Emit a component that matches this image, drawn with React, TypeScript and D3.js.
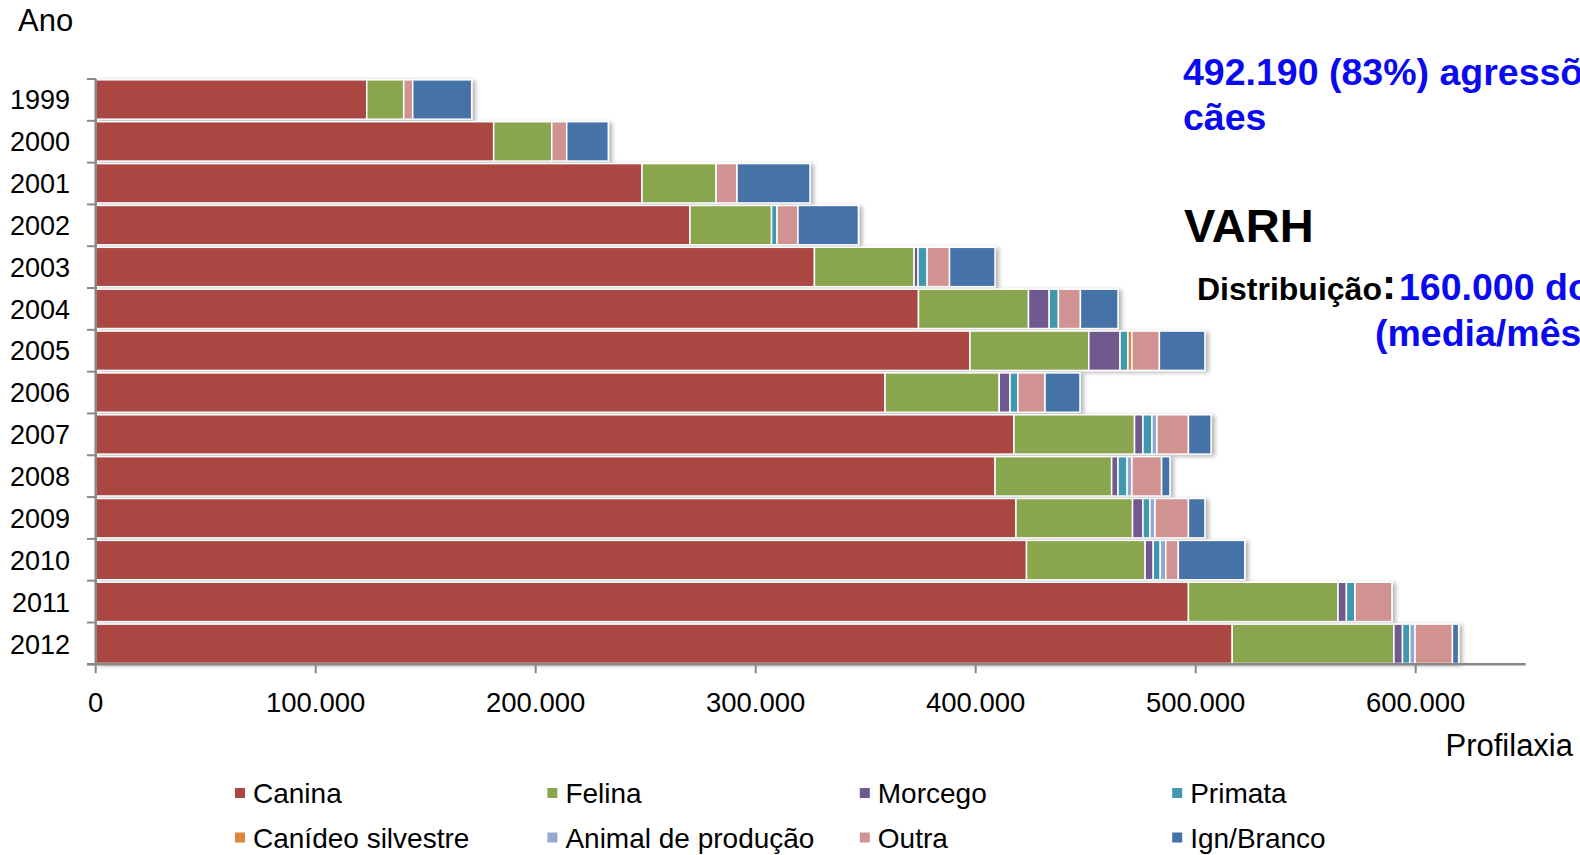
import React from "react";
import * as d3 from "d3";

// anos (eixo vertical)
const years = ["1999", "2000", "2001", "2002", "2003", "2004", "2005", "2006", "2007", "2008", "2009", "2010", "2011", "2012"];

// atendimentos por espécie agressora
const canina = [123200, 180900, 248300, 270100, 326700, 374000, 397400, 358800, 417400, 408800, 418300, 423100, 496700, 516600];
const felina = [16800, 26400, 33700, 37100, 45300, 50000, 54000, 51900, 54800, 53000, 53000, 53900, 68000, 73500];
const morcego = [0, 0, 0, 0, 1800, 9400, 14200, 4900, 3800, 2900, 4700, 3700, 3800, 3900];
const primata = [0, 0, 0, 2500, 4100, 4200, 3600, 3600, 4100, 4100, 3200, 3200, 3900, 3300];
const canideo = [0, 0, 0, 0, 0, 0, 1800, 0, 0, 0, 0, 0, 0, 0];
const producao = [0, 0, 0, 0, 0, 0, 0, 0, 2300, 2200, 2300, 2500, 0, 2400];
const outra = [4100, 6800, 9500, 9500, 10200, 10000, 12500, 12300, 14300, 13500, 15200, 5700, 16800, 17000];
const ign = [26800, 18900, 33200, 27500, 20700, 17100, 20700, 15900, 10300, 3800, 7500, 30200, 0, 2800];

const seriesNames = ["Canina", "Felina", "Morcego", "Primata", "Canídeo silvestre", "Animal de produção", "Outra", "Ign/Branco"];
const seriesValues = [canina, felina, morcego, primata, canideo, producao, outra, ign];
const colors = ["#AA4643", "#89A54E", "#71588F", "#4198AF", "#DB843D", "#93A9CF", "#D19392", "#4572A7"];

const xTicks = [0, 100000, 200000, 300000, 400000, 500000, 600000];

const FONT = "'Liberation Sans', Arial, sans-serif";

export default function App() {
  const W = 1580, H = 855;

  const x = d3.scaleLinear().domain([0, 650000]).range([95.7, 1525.7]);
  const y = d3.scaleBand<string>().domain(years).range([79, 664.3]).paddingInner(0.06).paddingOuter(0.02);

  // tabela para o d3.stack
  const rows = years.map((yr, i) => {
    const r: any = { year: yr };
    seriesNames.forEach((s, k) => { r[s] = seriesValues[k][i]; });
    return r;
  });
  const stacked = d3.stack().keys(seriesNames)(rows);

  const fmt = d3.formatLocale({ decimal: ",", thousands: ".", grouping: [3], currency: ["R$", ""] }).format(",");

  const [y0, y1] = y.range();
  const step = (y1 - y0) / years.length;
  const boundaries = d3.range(years.length + 1).map(i => y0 + i * step);

  return (
    <svg width={W} height={H} style={{ position: "absolute", left: 0, top: 0, display: "block", overflow: "hidden" }}
      fontFamily={FONT}>
      <defs>
        <filter id="sh" x="-2%" y="-20%" width="110%" height="150%">
          <feDropShadow dx="3" dy="1.5" stdDeviation="2" floodColor="#000" floodOpacity="0.3" />
        </filter>
      </defs>
      <rect width={W} height={H} fill="#fff" />

      <text x={18} y={31} fontSize={31}>Ano</text>

      {/* barras */}
      {years.map((yr, i) => (
        <g key={yr} filter="url(#sh)">
          {stacked.map((layer, k) => {
            const d = layer[i];
            if (d[1] - d[0] <= 0) return null;
            return (
              <rect key={k} x={x(d[0])} y={y(yr)} width={x(d[1]) - x(d[0])} height={y.bandwidth()}
                fill={colors[k]} stroke="#fff" strokeWidth={1.5} />
            );
          })}
        </g>
      ))}

      {/* eixo Y */}
      <line x1={x(0)} x2={x(0)} y1={y0} y2={y1} stroke="#888" strokeWidth={2.5} />
      {boundaries.map((b, i) => (
        <line key={i} x1={87} x2={x(0)} y1={b} y2={b} stroke="#888" strokeWidth={2} />
      ))}
      {years.map(yr => (
        <text key={yr} x={70} y={(y(yr) ?? 0) + y.bandwidth() / 2} dy="0.36em" textAnchor="end" fontSize={27}>{yr}</text>
      ))}

      {/* eixo X */}
      <line x1={87} x2={x(650000)} y1={y1} y2={y1} stroke="#888" strokeWidth={2.5} />
      {xTicks.map(t => (
        <g key={t}>
          <line x1={x(t)} x2={x(t)} y1={y1} y2={y1 + 9} stroke="#888" strokeWidth={2} />
          <text x={x(t)} y={712} textAnchor="middle" fontSize={27.5}>{fmt(t)}</text>
        </g>
      ))}
      <text x={1573} y={756} textAnchor="end" fontSize={31}>Profilaxia</text>

      {/* legenda */}
      {seriesNames.map((s, k) => {
        const col = k % 4, row = Math.floor(k / 4);
        const lx = 235 + col * 312.4;
        const ly = 803 + row * 44.5;
        return (
          <g key={s}>
            <rect x={lx} y={ly - 15} width={10} height={10} fill={colors[k]} />
            <text x={lx + 18} y={ly} fontSize={28}>{s}</text>
          </g>
        );
      })}

      {/* anotações */}
      <g fontWeight="bold">
        <text x={1183} y={85} fontSize={37.5} fill="#0a0af0">492.190 (83%) agressões por</text>
        <text x={1183} y={130} fontSize={37.5} fill="#0a0af0">cães</text>
        <text x={1184} y={242} fontSize={47} fill="#000">VARH</text>
        <text x={1197} y={300} fontSize={32} fill="#000">Distribuição<tspan fontSize={42} dy={-1}>:</tspan></text>
        <text x={1399} y={300} fontSize={37.5} fill="#0a0af0">160.000 doses</text>
        <text x={1375} y={346} fontSize={37.5} fill="#0a0af0">(media/mês)</text>
      </g>
    </svg>
  );
}
